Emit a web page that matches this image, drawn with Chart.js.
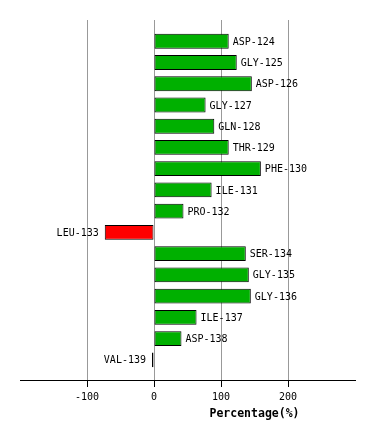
<!DOCTYPE html>
<html>
<head>
<meta charset="utf-8">
<script src="https://cdn.jsdelivr.net/npm/chart.js@4.4.1/dist/chart.umd.min.js"></script>
<style>
  html, body { margin: 0; padding: 0; background: #fff; }
  #wrap { width: 374px; height: 440px; }
</style>
</head>
<body>
<div id="wrap"><canvas id="resChart" width="374" height="440"></canvas></div>
<script>
// residues (top to bottom) and their percentage values
const residues = ['ASP-124', 'GLY-125', 'ASP-126', 'GLY-127', 'GLN-128', 'THR-129', 'PHE-130', 'ILE-131',
                  'PRO-132', 'LEU-133', 'SER-134', 'GLY-135', 'GLY-136', 'ILE-137', 'ASP-138', 'VAL-139'];
const percentages = [111.5, 123.5, 146, 77, 90, 111.5, 159.5, 86, 44, -73.5, 137, 141.5, 144.5, 63.5, 41, -3];
const xTicks = [-100, 0, 100, 200];
const axisTitle = 'Percentage(%)';

const mono = "'DejaVu Sans Mono', monospace";

// residue names next to the bar ends
const barLabels = {
    id: 'barLabels',
    afterDatasetsDraw(chart) {
        const ctx = chart.ctx;
        const meta = chart.getDatasetMeta(0);
        ctx.save();
        ctx.font = '10px ' + mono;
        ctx.fillStyle = '#000';
        ctx.textBaseline = 'middle';
        meta.data.forEach((bar, i) => {
            if (percentages[i] < 0) {
                ctx.textAlign = 'right';
                ctx.fillText(residues[i], bar.x - 6, bar.y + 1);
            } else {
                ctx.textAlign = 'left';
                ctx.fillText(residues[i], bar.x + 4, bar.y + 1);
            }
        });
        ctx.restore();
    }
};

// axis title sits off-centre in the original
const xTitle = {
    id: 'xTitle',
    afterDraw(chart) {
        const ctx = chart.ctx;
        const area = chart.chartArea;
        ctx.save();
        ctx.font = 'bold 11.5px ' + mono;
        ctx.fillStyle = '#000';
        ctx.textAlign = 'center';
        ctx.textBaseline = 'middle';
        ctx.fillText(axisTitle, area.left + area.width * 0.7, 414);
        ctx.restore();
    }
};

new Chart(document.getElementById('resChart'), {
    type: 'bar',
    data: {
        datasets: [{
            data: percentages.map((v, i) => ({ x: v, y: i })),
            backgroundColor: percentages.map(v => v < 0 ? '#ff0000' : '#00b000'),
            borderColor: '#000',
            borderWidth: 1,
            borderSkipped: false,
            categoryPercentage: 1,
            barPercentage: 0.7
        }]
    },
    options: {
        indexAxis: 'y',
        responsive: false,
        animation: false,
        layout: { padding: { left: 20, right: 19, top: 20, bottom: 0 } },
        plugins: {
            legend: { display: false },
            tooltip: { enabled: false }
        },
        scales: {
            y: {
                type: 'linear',
                offset: false,
                reverse: true,
                min: -1,
                max: 15.95,
                display: false
            },
            x: {
                min: -200,
                max: 300,
                afterBuildTicks: (scale) => {
                    scale.ticks = xTicks.map(v => ({ value: v }));
                },
                afterFit: (scale) => {
                    scale.height = 60;
                },
                grid: {
                    color: '#999',
                    tickColor: '#000',
                    tickLength: 7,
                    lineWidth: 1
                },
                border: { color: '#000', width: 1 },
                ticks: {
                    color: '#000',
                    font: { family: mono, size: 10 },
                    padding: 4,
                    maxRotation: 0
                }
            }
        }
    },
    plugins: [barLabels, xTitle]
});
</script>
</body>
</html>
